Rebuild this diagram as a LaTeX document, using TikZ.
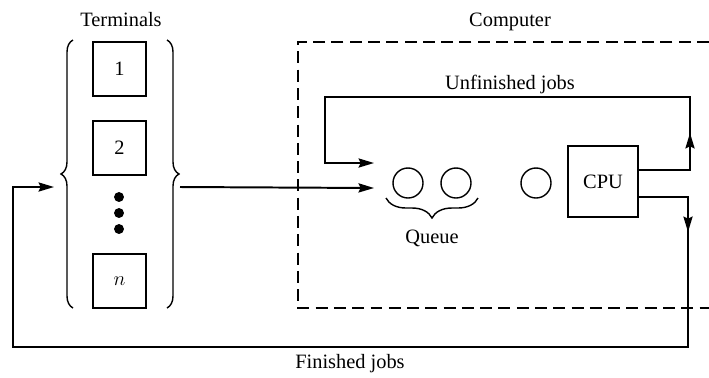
\documentclass[tikz,border=0pt]{standalone}
\usepackage{fontspec}
\setmainfont{Liberation Serif}
\usetikzlibrary{arrows.meta,decorations.pathreplacing,decorations.markings}
\begin{document}
\begin{tikzpicture}[x=0.025cm,y=-0.025cm,line width=1.4pt,font=\fontsize{14.5}{17}\selectfont,
	term/.style={draw,minimum size=1.33cm,inner sep=0pt},
	slot/.style={circle,draw,minimum size=0.75cm,inner sep=0pt,line width=1pt},
	>={Stealth[length=11pt,width=6.5pt,inset=1.5pt]},
	midarrow/.style={postaction={decorate,decoration={markings,mark=at position #1 with {\arrow{>}}}}},
	brc/.style={decorate,decoration={brace,amplitude=#1},line width=1pt}]
			\useasboundingbox (0,0) rectangle (709,377);
			% terminals
			\node (lblterm) at (121,20) {Terminals};
			\node[term] (t1) at (119.5,69) {1};
			\node[term] (t2) at (119.5,148) {2};
			\node[circle,fill=black,inner sep=2.5pt] (d1) at (119,197) {};
			\node[circle,fill=black,inner sep=2.5pt] (d2) at (119,213) {};
			\node[circle,fill=black,inner sep=2.5pt] (d3) at (119,229) {};
			\node[term] (tn) at (119.5,281) {$n$};
			\draw[brc=0.3cm] (73,308) -- (73,40);
			\draw[brc=0.3cm] (167,40) -- (167,308);
			\coordinate (tout) at (180,187);
			\coordinate (tin) at (54,187);
			% computer
			\draw[dashed,line width=1.2pt,dash pattern=on 8.5pt off 4.5pt] (709,42) -| (298,308) -- (709,308);
			\node (lblcomp) at (510,22) {Computer};
			\node[slot] (q1) at (408,183) {};
			\node[slot] (q2) at (456,183) {};
			\node[slot] (q3) at (536,183) {};
			\node[draw,minimum width=1.75cm,minimum height=1.78cm] (cpu) at (603,181.5) {CPU};
			\draw[brc=0.5cm] (478,198) -- (386,198);
			\node (lblqueue) at (432,238) {Queue};
			\coordinate (qin) at (374,188);
			\coordinate (qret) at (374,163);
			% jobs
			\draw[->] (tout) -- (qin);
			\draw[->,midarrow=2.2cm] ([yshift=8.2pt]cpu.east) -| (690,97) -| (325,163) -- (qret);
			\node (lblunf) at (510,84) {Unfinished jobs};
			\draw[->,midarrow=2.1cm] ([yshift=-11pt]cpu.east) -| (688,347) -| (13,187) -- (tin);
			\node (lblfin) at (350,364) {Finished jobs};
\end{tikzpicture}
\end{document}
